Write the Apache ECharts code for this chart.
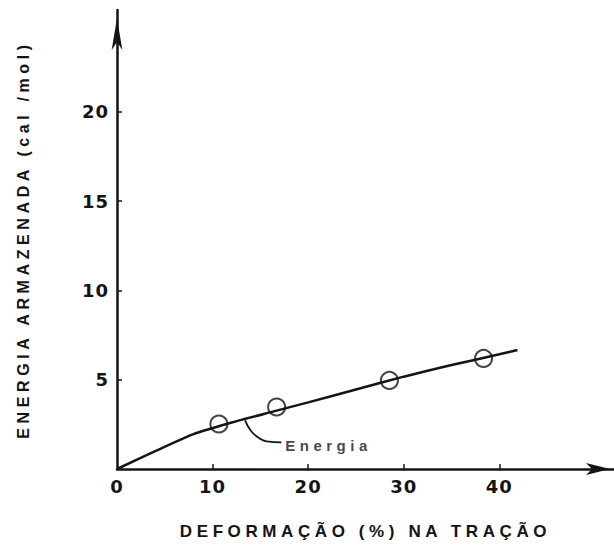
<!DOCTYPE html>
<html>
<head>
<meta charset="utf-8">
<script src="https://cdn.jsdelivr.net/npm/echarts@6/dist/echarts.min.js"></script>
<style>
  html, body { margin: 0; padding: 0; background: #fff; }
  #chart { width: 614px; height: 545px; }
  /* wide, stencil-like lettering of the original drawing */
  #chart text[style*="17px"] { letter-spacing: 4.6px; }
  #chart text[style*="16px"] { letter-spacing: 4.6px; }
  #chart text[style*="15px"] { letter-spacing: 4.5px; }
  #chart text[style*="18px"] { letter-spacing: 1px; }
</style>
</head>
<body>
<div id="chart"></div>
<script>
// ---- data ----
const xTickLabels = [0, 10, 20, 30, 40];
const yTickLabels = [5, 10, 15, 20];
// fitted curve "Energia" (strain %, cal/mol)
const curveX = [0, 4, 8, 12, 16, 20, 25, 30, 35, 40, 41.9];
const curveY = [0, 1.0, 1.95, 2.6, 3.17, 3.73, 4.45, 5.17, 5.82, 6.42, 6.66];
// measured points (circles)
const pointX = [10.66, 16.7, 28.5, 38.35];
const pointY = [2.52, 3.47, 4.96, 6.19];
// leader line of the "Energia" annotation
const leaderX = [13.4, 14.0, 14.77, 15.65, 17.2];
const leaderY = [2.72, 2.14, 1.77, 1.55, 1.49];
const annotation = { x: 17.6, y: 1.29, text: 'Energia' };

const xTitle = 'DEFORMAÇÃO (%) NA TRAÇÃO';
const yTitle = 'ENERGIA ARMAZENADA (cal /mol)';

const ink = '#141414';
const digitFont = 'DejaVu Sans';
const letterFont = 'Liberation Sans';

const chart = echarts.init(document.getElementById('chart'), null, { renderer: 'svg' });

chart.setOption({
  animation: false,
  backgroundColor: '#ffffff',
  grid: { left: 117, right: 0, top: 10, bottom: 75, containLabel: false },
  xAxis: {
    type: 'value',
    min: 0, max: 52, interval: 10,
    splitLine: { show: false },
    axisLine: { lineStyle: { color: ink, width: 2.5 }, symbol: ['none', 'arrow'], symbolSize: [9, 24], symbolOffset: [0, -4] },
    axisTick: { inside: true, length: 5, lineStyle: { color: ink, width: 1.5 }, customValues: [10, 20, 30, 40] },
    axisLabel: { customValues: xTickLabels, color: ink, fontFamily: digitFont, fontSize: 18, fontWeight: 'bold', margin: 8 },
    name: xTitle,
    nameLocation: 'middle',
    nameGap: 54,
    nameTextStyle: { color: ink, fontFamily: letterFont, fontSize: 17, fontWeight: 'bold' }
  },
  yAxis: {
    type: 'value',
    min: 0, max: 25.7, interval: 5,
    splitLine: { show: false },
    axisLine: { lineStyle: { color: ink, width: 2.5 }, symbol: ['none', 'arrow'], symbolSize: [8, 32], symbolOffset: [0, -8] },
    axisTick: { inside: true, length: 5, lineStyle: { color: ink, width: 1.5 }, customValues: yTickLabels },
    axisLabel: { customValues: yTickLabels, color: ink, fontFamily: digitFont, fontSize: 18, fontWeight: 'bold', margin: 8 },
    name: yTitle,
    nameLocation: 'middle',
    nameRotate: 90,
    nameGap: 86,
    nameTextStyle: { color: ink, fontFamily: letterFont, fontSize: 16, fontWeight: 'bold' }
  },
  series: [
    {
      name: 'Energia',
      type: 'line',
      data: curveX.map((x, i) => [x, curveY[i]]),
      smooth: 0.2,
      showSymbol: false,
      lineStyle: { color: ink, width: 2.5 },
      z: 3
    },
    {
      type: 'scatter',
      data: pointX.map((x, i) => [x, pointY[i]]),
      symbol: 'circle',
      symbolSize: 17,
      itemStyle: { color: 'rgba(0,0,0,0)', borderColor: ink, borderWidth: 2 },
      z: 4
    },
    {
      type: 'line',
      data: leaderX.map((x, i) => [x, leaderY[i]]),
      smooth: 0.5,
      showSymbol: false,
      lineStyle: { color: ink, width: 1.8 },
      z: 3
    },
    {
      type: 'scatter',
      data: [[annotation.x, annotation.y]],
      symbolSize: 0,
      label: {
        show: true, position: 'right', distance: 0,
        formatter: annotation.text,
        color: ink, fontFamily: letterFont, fontSize: 15, fontWeight: 'bold'
      }
    }
  ]
});
</script>
</body>
</html>
